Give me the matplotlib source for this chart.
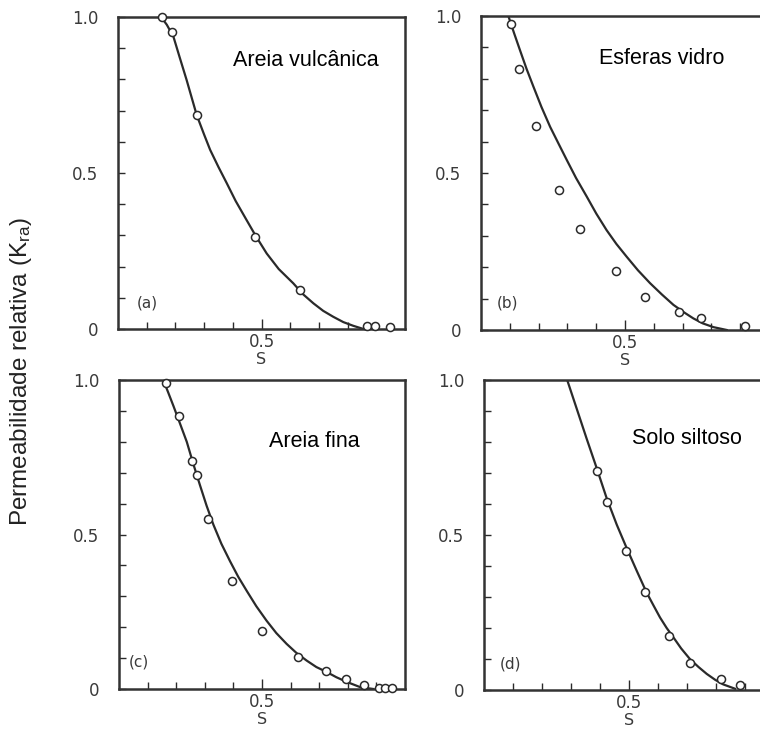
import numpy as np
import matplotlib
matplotlib.use("Agg")
import matplotlib.pyplot as plt

plt.rcParams['mathtext.default'] = 'regular'

# Data (S, relative permeability)
titles = ["Areia vulcânica", "Esferas vidro", "Areia fina", "Solo siltoso"]
tags = ["(a)", "(b)", "(c)", "(d)"]

# measured points (open circles)
sA = [0.152, 0.187, 0.274, 0.477, 0.634, 0.866, 0.895, 0.948]
kA = [1.00, 0.951, 0.686, 0.296, 0.125, 0.010, 0.010, 0.007]
sB = [0.104, 0.132, 0.190, 0.272, 0.343, 0.467, 0.571, 0.688, 0.764, 0.917]
kB = [0.975, 0.830, 0.650, 0.446, 0.323, 0.188, 0.106, 0.056, 0.039, 0.013]
sC = [0.164, 0.210, 0.256, 0.272, 0.310, 0.394, 0.501, 0.625, 0.723, 0.793, 0.857, 0.909, 0.930, 0.953]
kC = [0.990, 0.883, 0.738, 0.692, 0.551, 0.351, 0.188, 0.103, 0.057, 0.031, 0.012, 0.003, 0.003, 0.002]
sD = [0.389, 0.425, 0.490, 0.554, 0.637, 0.710, 0.816, 0.883]
kD = [0.707, 0.608, 0.448, 0.316, 0.175, 0.087, 0.034, 0.015]

# fitted curves
cA_s = [0.150, 0.170, 0.193, 0.215, 0.239, 0.274, 0.300, 0.321, 0.350, 0.379, 0.410, 0.448, 0.480,
        0.518, 0.560, 0.611, 0.645, 0.681, 0.715, 0.750, 0.785, 0.820, 0.855]
cA_k = [1.000, 0.975, 0.937, 0.870, 0.798, 0.686, 0.623, 0.574, 0.519, 0.467, 0.410, 0.349, 0.298,
        0.242, 0.192, 0.146, 0.111, 0.082, 0.058, 0.039, 0.022, 0.010, 0.000]
cB_s = [0.095, 0.115, 0.135, 0.158, 0.182, 0.210, 0.240, 0.270, 0.298, 0.330, 0.367, 0.400, 0.436,
        0.470, 0.506, 0.545, 0.587, 0.628, 0.668, 0.705, 0.737, 0.770, 0.807, 0.853]
cB_k = [1.000, 0.945, 0.892, 0.832, 0.775, 0.710, 0.647, 0.592, 0.541, 0.484, 0.425, 0.371, 0.318,
        0.274, 0.233, 0.190, 0.149, 0.113, 0.080, 0.056, 0.037, 0.021, 0.009, 0.000]
cC_s = [0.155, 0.172, 0.190, 0.213, 0.237, 0.260, 0.283, 0.306, 0.330, 0.358, 0.388, 0.417, 0.447,
        0.480, 0.516, 0.550, 0.586, 0.620, 0.656, 0.690, 0.726, 0.760, 0.796, 0.843, 0.889]
cC_k = [1.000, 0.960, 0.917, 0.860, 0.800, 0.728, 0.660, 0.594, 0.532, 0.470, 0.414, 0.363, 0.317,
        0.268, 0.221, 0.181, 0.146, 0.117, 0.092, 0.071, 0.055, 0.038, 0.023, 0.006, 0.000]
cD_s = [0.287, 0.320, 0.354, 0.389, 0.423, 0.458, 0.492, 0.527, 0.561, 0.585, 0.607, 0.630, 0.653,
        0.680, 0.710, 0.740, 0.768, 0.797, 0.825, 0.866]
cD_k = [1.000, 0.907, 0.811, 0.715, 0.619, 0.533, 0.458, 0.384, 0.314, 0.272, 0.234, 0.200, 0.170,
        0.134, 0.100, 0.074, 0.052, 0.033, 0.018, 0.004]

pts = [(sA, kA), (sB, kB), (sC, kC), (sD, kD)]
curves = [(cA_s, cA_k), (cB_s, cB_k), (cC_s, cC_k), (cD_s, cD_k)]

# axes rectangles in figure fractions (left, bottom, width, height)
rects = [
    (0.1553, 0.5500, 0.3776, 0.4268),
    (0.6329, 0.5486, 0.3790, 0.4295),
    (0.1566, 0.0575, 0.3763, 0.4225),
    (0.6368, 0.0561, 0.3816, 0.4240),
]
title_pos = [(0.40, 0.862), (0.41, 0.866), (0.524, 0.80), (0.51, 0.81)]
tag_pos = [(0.066, 0.083), (0.055, 0.085), (0.035, 0.087), (0.055, 0.085)]

ink = "#2a2a2a"
fig = plt.figure(figsize=(7.6, 7.31), dpi=100)

for i in range(4):
    ax = fig.add_axes(rects[i])
    cs, ck = curves[i]
    ax.plot(cs, ck, color=ink, lw=1.6, zorder=2)
    ps, pk = pts[i]
    ax.plot(ps, pk, 'o', ms=5.8, mfc='white', mec=ink, mew=1.1, zorder=3, clip_on=False)

    ax.set_xlim(0, 1.0)
    ax.set_ylim(0, 1.0)
    ax.set_xticks([0.5])
    ax.set_xticklabels(["0.5"])
    ax.set_xticks(np.arange(0.1, 1.0, 0.1), minor=True)
    ax.set_yticks([0, 0.5, 1.0])
    ax.set_yticklabels(["0", "0.5", "1.0"])
    ax.set_yticks(np.arange(0.1, 1.0, 0.1), minor=True)
    ax.tick_params(which='both', direction='in', color=ink, width=1.0,
                   labelcolor='#3a3a3a', labelsize=12)
    ax.tick_params(axis='x', which='major', length=7, pad=3)
    ax.tick_params(axis='x', which='minor', length=5)
    ax.tick_params(axis='y', which='major', length=5, pad=14)
    ax.tick_params(axis='y', which='minor', length=5)
    for sp in ax.spines.values():
        sp.set_linewidth(1.8)
        sp.set_color('#333333')
    ax.set_xlabel("S", fontsize=11.5, color='#3a3a3a', labelpad=0.5)

    tx, ty = title_pos[i]
    ax.text(tx, ty, titles[i], transform=ax.transAxes, fontsize=15.5,
            family='Liberation Sans', color='black', va='center', ha='left')
    gx, gy = tag_pos[i]
    ax.text(gx, gy, tags[i], transform=ax.transAxes, fontsize=11,
            color='#3a3a3a', va='center', ha='left')

fig.text(0.028, 0.492, "Permeabilidade relativa (K$_{ra}$)", rotation=90,
         fontsize=17.5, family='Liberation Sans', color='#222222',
         ha='center', va='center')

fig.savefig("out.png", dpi=100)
